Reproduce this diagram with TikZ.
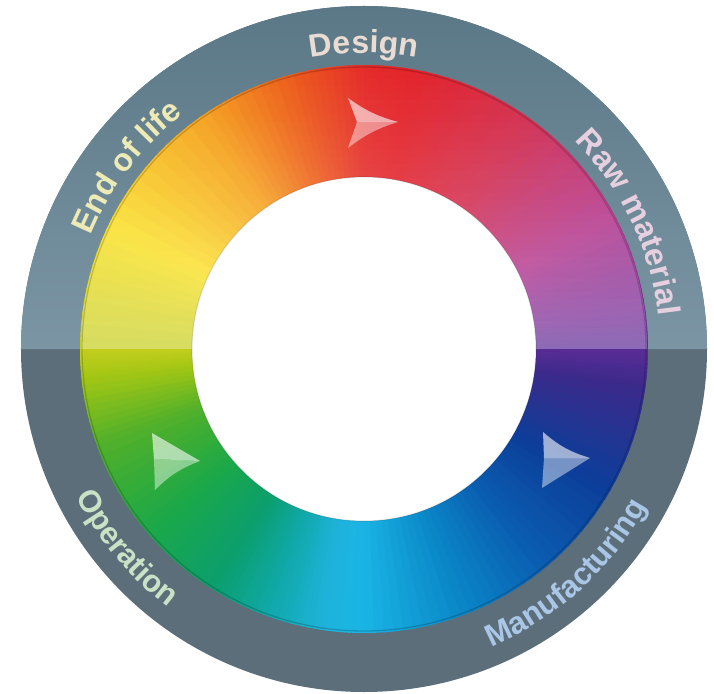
\documentclass[tikz,border=0pt]{standalone}
\usepackage{fontspec}
\newfontfamily\lblfont{Liberation Sans}
\usetikzlibrary{decorations.text}
\definecolor{grayT1}{HTML}{5B7886}
\definecolor{grayT2}{HTML}{7B95A4}
\definecolor{grayB}{HTML}{5C6E79}
\definecolor{txtDesign}{HTML}{EADBD3}
\definecolor{txtEnd}{HTML}{EDEAB5}
\definecolor{txtRaw}{HTML}{E6CFDF}
\definecolor{txtOp}{HTML}{C9E2C6}
\definecolor{txtMan}{HTML}{A9C6E6}
\definecolor{k0}{HTML}{1AB4E4}
\definecolor{k1}{HTML}{0A88C8}
\definecolor{k2}{HTML}{0A5CB0}
\definecolor{k3}{HTML}{0C3E9A}
\definecolor{k4}{HTML}{3A2A8A}
\definecolor{k5}{HTML}{5A2C96}
\definecolor{k6}{HTML}{7A2E98}
\definecolor{k7}{HTML}{B0308A}
\definecolor{k8}{HTML}{D22A4C}
\definecolor{k9}{HTML}{E3232A}
\definecolor{k10}{HTML}{E52B2A}
\definecolor{k11}{HTML}{ED5E19}
\definecolor{k12}{HTML}{F5A01A}
\definecolor{k13}{HTML}{FAE020}
\definecolor{k14}{HTML}{C4CE1E}
\definecolor{k15}{HTML}{A2C614}
\definecolor{k16}{HTML}{50B02A}
\definecolor{k17}{HTML}{1CA848}
\definecolor{k18}{HTML}{0B9F6E}
\definecolor{k19}{HTML}{10A8A8}
\definecolor{k20}{HTML}{1FB3DC}
\newcommand\huesector[4]{%
  \foreach \i in {0,...,9}{%
    \pgfmathsetmacro\sa{#1+(#2-#1)*\i/10}%
    \pgfmathsetmacro\sb{#1+(#2-#1)*(\i+1)/10+0.5}%
    \pgfmathtruncatemacro\pp{100-(\i+0.5)*10}%
    \fill[#3!\pp!#4] (0,0) -- (\sa:284pt) arc[start angle=\sa, end angle=\sb, radius=284pt] -- cycle;
  }}
\newcommand\lblsty{\lblfont\bfseries\fontsize{32}{38}\selectfont}
\newcommand\lblstyb{\lblfont\bfseries\fontsize{31}{37}\selectfont}
\tikzset{
  lbl/.style={decorate, decoration={text along path, text align=center, text color=#1}},
  arrowhi/.style={fill=white, fill opacity=0.6},
  arrowlo/.style={fill=white, fill opacity=0.44}
}
\begin{document}
\begin{tikzpicture}[x=1pt,y=1pt]
\useasboundingbox (-364,-344) rectangle (350,349);
% grey outer ring
\fill[grayB] (0,0) circle (343pt);
\shade[top color=grayT1, bottom color=grayT2] (0:343pt) arc[start angle=0, end angle=180, radius=343pt] -- cycle;
% colour ring
\huesector{-90}{-70}{k0}{k1}
\huesector{-70}{-50}{k1}{k2}
\huesector{-50}{-30}{k2}{k3}
\huesector{-30}{-8}{k3}{k4}
\huesector{-8}{0}{k4}{k5}
\huesector{0}{8}{k5}{k6}
\huesector{8}{27}{k6}{k7}
\huesector{27}{55}{k7}{k8}
\huesector{55}{80}{k8}{k9}
\huesector{80}{90}{k9}{k10}
\huesector{90}{106}{k10}{k11}
\huesector{106}{125}{k11}{k12}
\huesector{125}{155}{k12}{k13}
\huesector{155}{180}{k13}{k14}
\huesector{180}{186}{k14}{k15}
\huesector{186}{200}{k15}{k16}
\huesector{200}{220}{k16}{k17}
\huesector{220}{238}{k17}{k18}
\huesector{238}{250}{k18}{k19}
\huesector{250}{262}{k19}{k20}
\huesector{262}{270}{k20}{k0}
% light wash on upper half of colour ring
\begin{scope}
  \clip (0,0) circle (283pt);
  \foreach \k in {0,...,39}{%
    \pgfmathsetmacro\op{0.3*(1-(\k+0.5)/40)}%
    \fill[white, fill opacity=\op] (-290,\k*7.1) rectangle (290,\k*7.1+7.1);
  }
\end{scope}
% edges
\draw[black, opacity=0.18, line width=1.3pt] (0,0) circle (282pt);
\fill[white] (0,0) circle (172pt);
\draw[black, opacity=0.12, line width=1.2pt] (0,0) circle (172pt);
% arrows
\fill[arrowhi] (-16,251) to[bend right=10] (34,227) -- (-7,227) -- cycle;
\fill[arrowlo] (-7,227) -- (34,227) to[bend right=10] (-16,201) -- cycle;
\fill[arrowhi] (-212,-84) -- (-164,-112) -- (-210,-110) -- cycle;
\fill[arrowlo] (-210,-110) -- (-164,-112) to[bend right=12] (-209,-141) -- cycle;
\fill[arrowhi] (179,-83) to[bend right=12] (226,-109) -- (180,-109) -- cycle;
\fill[arrowlo] (180,-109) -- (226,-109) -- (178,-139) -- cycle;
% labels
\path[lbl=txtDesign, decoration={text={|\lblsty|Design}}] (160:296pt) arc[start angle=160, end angle=20, radius=296pt];
\path[lbl=txtEnd, decoration={text={|\lblsty|End of life}}] (212.5:296pt) arc[start angle=212.5, end angle=72.5, radius=296pt];
\path[lbl=txtRaw, decoration={text={|\lblsty|Raw material}}] (95.5:296pt) arc[start angle=95.5, end angle=-44.5, radius=296pt];
\path[lbl=txtOp, decoration={text={|\lblstyb|Operation}}] (150:324pt) arc[start angle=150, end angle=290, radius=324pt];
\path[lbl=txtMan, decoration={text={|\lblstyb|Manufacturing}}] (242:324pt) arc[start angle=242, end angle=382, radius=324pt];
\end{tikzpicture}
\end{document}
